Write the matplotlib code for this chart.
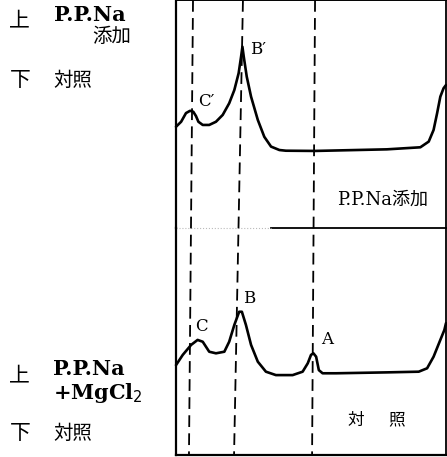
import matplotlib.pyplot as plt

W, H = 447, 457

# elution position (0-100 across the box) and absorbance (0-100 per panel)
top_x = [0, 1.9, 3.7, 5.2, 6.4, 7.4, 8.3, 9.9, 12.3, 14.8, 17.3, 19.7, 21.6,
         23.2, 24.1, 24.6, 25.1, 26.2, 27.8, 30.3, 32.7, 35.2, 38.3, 40.7,
         51.5, 78.1, 90.5, 93.6, 95.4, 96.7, 97.9, 99.1, 100]
top_y = [44.4, 46.6, 50.4, 51.4, 51.0, 49.1, 46.6, 45.2, 45.2, 46.6, 49.6,
         54.7, 60.5, 67.9, 75.1, 79.5, 75.1, 66.4, 57.6, 47.4, 40.0, 35.7,
         34.2, 33.9, 33.8, 34.5, 35.4, 37.9, 43.0, 50.3, 57.6, 61.3, 62.7]

bottom_x = [0, 2.5, 5.6, 8.0, 9.9, 11.1, 12.3, 14.8, 17.9, 19.7, 21.6, 23.4,
            24.4, 25.9, 27.8, 30.3, 33.3, 37.0, 43.2, 46.9, 48.8, 50.0, 50.9,
            51.9, 52.9, 54.3, 59.3, 78.1, 89.9, 93.0, 95.4, 97.9, 99.4, 100]
bottom_y = [39.6, 44.1, 48.5, 50.7, 49.9, 47.7, 45.5, 44.8, 45.5, 49.9, 57.3,
            63.1, 63.1, 57.3, 48.5, 41.1, 36.7, 35.2, 35.2, 36.7, 40.4, 44.1,
            44.8, 43.3, 37.4, 36.0, 36.0, 36.4, 36.7, 38.2, 43.3, 50.7, 55.1,
            58.1]

# dashed reference lines (x at top and bottom of the box)
marker_top = [6.3, 24.8, 51.5]
marker_bottom = [4.8, 21.5, 50.4]

top_peaks = [("C\u2032", 5.2, 51.4), ("B\u2032", 24.6, 79.5)]
bottom_peaks = [("C", 8.0, 50.7), ("B", 23.4, 63.1), ("A", 50.9, 44.8)]
top_offsets = [(5.8, 7), (5.5, -1.7)]
bottom_offsets = [(-2, 9.4), (2.7, 9.9), (5.5, 9.6)]

serif = "DejaVu Serif"
cjk = "Noto Sans CJK JP"


def box(left, top, width, height):
    return [left / W, 1 - (top + height) / H, width / W, height / H]


fig = plt.figure(figsize=(W / 100, H / 100), dpi=100)
fig.patch.set_facecolor("white")

ax_top = fig.add_axes(box(176, 0, 270, 228))
ax_bot = fig.add_axes(box(176, 228, 270, 227))
for ax in (ax_top, ax_bot):
    ax.set_xlim(0, 100)
    ax.set_ylim(0, 100)
    ax.set_xticks([])
    ax.set_yticks([])
    ax.patch.set_alpha(0)
    ax.spines["top"].set_visible(False)
    ax.spines["bottom"].set_visible(False)
    ax.spines["left"].set_linewidth(1.6)
    ax.spines["right"].set_linewidth(1.3)
ax_top.spines["top"].set_visible(True)
ax_top.spines["top"].set_linewidth(1.4)
ax_bot.spines["bottom"].set_visible(True)
ax_bot.spines["bottom"].set_linewidth(1.6)

ax_top.plot(top_x, top_y, color="black", lw=1.9, solid_joinstyle="round",
            solid_capstyle="round", clip_on=False)
ax_bot.plot(bottom_x, bottom_y, color="black", lw=1.9,
            solid_joinstyle="round", solid_capstyle="round", clip_on=False)

# divider between panels
ax_bot.plot([35, 100], [100, 100], color="black", lw=1.3, clip_on=False)
ax_bot.plot([0, 35], [100, 100], color="#bbbbbb", lw=0.8, ls=":",
            clip_on=False)

# dashed lines across both panels
ax_all = fig.add_axes(box(176, 0, 270, 455))
ax_all.set_xlim(0, 100)
ax_all.set_ylim(0, 1)
ax_all.axis("off")
for xt, xb in zip(marker_top, marker_bottom):
    ax_all.plot([xt, xb], [1, 0], color="black", lw=1.3,
                dashes=(6.5, 3.5), clip_on=False)

for (name, px, py), (dx, dy) in zip(top_peaks, top_offsets):
    ax_top.annotate(name, (px, py), xytext=(dx, dy),
                    textcoords="offset points", fontsize=12,
                    family=serif, va="center", ha="left")
for (name, px, py), (dx, dy) in zip(bottom_peaks, bottom_offsets):
    ax_bot.annotate(name, (px, py), xytext=(dx, dy),
                    textcoords="offset points", fontsize=12,
                    family=serif, va="center", ha="left")


def label(x, y, s, size=13, weight="normal", family=None):
    fig.text(x / W, 1 - y / H, s, fontsize=size, fontweight=weight,
             family=family or [serif, cjk], va="center", ha="left")


label(337, 200, "P.P.Na添加", 13)
label(348, 420, "対", 12, family=cjk)
label(388, 420, "照", 12, family=cjk)

label(9, 20, "上", 15, family=cjk)
label(54, 15, "P.P.Na", 15, "bold")
label(92, 37, "添加", 14, family=cjk)
label(10, 80, "下", 15, family=cjk)
label(53, 80, "対照", 14, family=cjk)

label(9, 375, "上", 15, family=cjk)
label(53, 369, "P.P.Na", 15, "bold")
label(53, 393, "+MgCl$_2$", 15, "bold")
label(10, 433, "下", 15, family=cjk)
label(53, 433, "対照", 14, family=cjk)

fig.savefig("out.png", dpi=100, facecolor="white")
